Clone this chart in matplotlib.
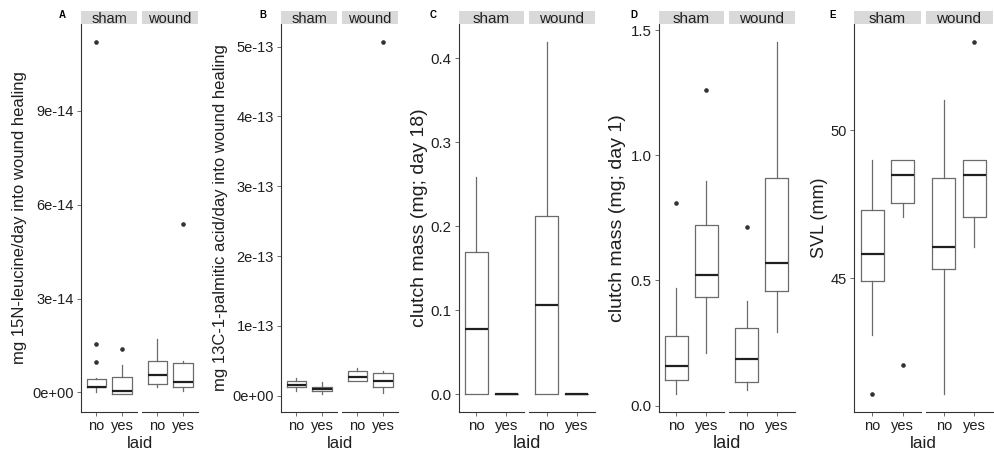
import numpy as np
import matplotlib.pyplot as plt

plt.rcParams['font.family'] = ['Liberation Sans', 'DejaVu Sans']

# --------------------------
# data
groups = ['sham', 'wound']
laid = ['no', 'yes']

# five-number summaries [whislo, q1, med, q3, whishi]
# order: sham-no, sham-yes, wound-no, wound-yes
leucine_box = [[0.02e-14, 0.16e-14, 0.19e-14, 0.42e-14, 0.45e-14],
               [-0.06e-14, -0.05e-14, 0.05e-14, 0.48e-14, 0.89e-14],
               [0.16e-14, 0.27e-14, 0.55e-14, 1.00e-14, 1.72e-14],
               [0.05e-14, 0.16e-14, 0.34e-14, 0.94e-14, 1.00e-14]]
leucine_out = [[0.98e-14, 1.54e-14, 11.2e-14], [1.38e-14], [], [5.38e-14]]

palmitic_box = [[0.07e-13, 0.13e-13, 0.16e-13, 0.21e-13, 0.26e-13],
                [0.02e-13, 0.07e-13, 0.10e-13, 0.13e-13, 0.19e-13],
                [0.21e-13, 0.21e-13, 0.27e-13, 0.36e-13, 0.40e-13],
                [0.04e-13, 0.13e-13, 0.21e-13, 0.32e-13, 0.36e-13]]
palmitic_out = [[], [], [], [5.07e-13]]

clutch18_box = [[0.0, 0.0, 0.078, 0.169, 0.259],
                [0.0, 0.0, 0.0, 0.0, 0.0],
                [0.0, 0.0, 0.107, 0.212, 0.420],
                [0.0, 0.0, 0.0, 0.0, 0.0]]
clutch18_out = [[], [], [], []]

clutch1_box = [[0.045, 0.102, 0.159, 0.278, 0.469],
               [0.211, 0.434, 0.520, 0.721, 0.897],
               [0.062, 0.093, 0.185, 0.310, 0.416],
               [0.296, 0.456, 0.568, 0.911, 1.454]]
clutch1_out = [[0.811], [1.259], [0.714], []]

svl_box = [[43.07, 44.92, 45.81, 47.30, 49.01],
           [47.07, 47.55, 48.50, 49.01, 49.01],
           [41.07, 45.31, 46.04, 48.40, 51.01],
           [46.04, 47.07, 48.50, 49.01, 49.01]]
svl_out = [[41.07], [42.07], [], [53.0]]

panels = [
    dict(letter='A', ylabel='mg 15N-leucine/day into wound healing',
         box=leucine_box, out=leucine_out,
         ticks=[0, 3e-14, 6e-14, 9e-14],
         labels=['0e+00', '3e-14', '6e-14', '9e-14']),
    dict(letter='B', ylabel='mg 13C-1-palmitic acid/day into wound healing',
         box=palmitic_box, out=palmitic_out,
         ticks=[0, 1e-13, 2e-13, 3e-13, 4e-13, 5e-13],
         labels=['0e+00', '1e-13', '2e-13', '3e-13', '4e-13', '5e-13']),
    dict(letter='C', ylabel='clutch mass (mg; day 18)',
         box=clutch18_box, out=clutch18_out,
         ticks=[0, 0.1, 0.2, 0.3, 0.4],
         labels=['0.0', '0.1', '0.2', '0.3', '0.4']),
    dict(letter='D', ylabel='clutch mass (mg; day 1)',
         box=clutch1_box, out=clutch1_out,
         ticks=[0, 0.5, 1.0, 1.5],
         labels=['0.0', '0.5', '1.0', '1.5']),
    dict(letter='E', ylabel='SVL (mm)',
         box=svl_box, out=svl_out,
         ticks=[45, 50],
         labels=['45', '50']),
]

# --------------------------
# layout in pixels, font sizes per panel (the panels were scaled differently)
W, H = 994, 458
panel_left = [81, 281, 458.5, 658.5, 854]
facet_w = [56.4, 56.4, 65.75, 65.75, 67]
gap = 4.5
plot_top, plot_bot = 24, 412
strip_top = 11
ylabel_x = [20, 220, 419, 618, 820]
letter_x = [62, 263, 433, 634, 833]
tick_fs = [10.5, 10.5, 10.8, 10.8, 10.5]
ytitle_fs = [12, 12, 14, 14, 13]
xtitle_fs = [12, 12, 13, 13, 12.3]
strip_fs = [10.5, 10.5, 11, 11, 11]

box_col = '#6b6b6b'
dark = '#1f1f1f'

fig = plt.figure(figsize=(W / 100, H / 100), dpi=100)

for p, pan in enumerate(panels):
    vals = [v for row in pan['box'] for v in row] + [v for row in pan['out'] for v in row]
    lo, hi = min(vals), max(vals)
    pad = 0.05 * (hi - lo)

    for j, grp in enumerate(groups):
        x0 = panel_left[p] + j * (facet_w[p] + gap)
        ax = fig.add_axes([x0 / W, 1 - plot_bot / H, facet_w[p] / W, (plot_bot - plot_top) / H])
        stats = []
        for k, lab in enumerate(laid):
            b = pan['box'][j * 2 + k]
            stats.append(dict(whislo=b[0], q1=b[1], med=b[2], q3=b[3], whishi=b[4],
                              fliers=pan['out'][j * 2 + k], label=lab))
        ax.bxp(stats, positions=[1, 2], widths=0.75, showcaps=False, patch_artist=False,
               boxprops=dict(color=box_col, linewidth=0.9),
               whiskerprops=dict(color=box_col, linewidth=0.9),
               medianprops=dict(color=dark, linewidth=1.6),
               flierprops=dict(marker='o', markersize=2.3, markerfacecolor='#333333',
                               markeredgecolor='#333333'))
        ax.set_xlim(0.4, 2.6)
        ax.set_ylim(lo - pad, hi + pad)
        ax.set_xticks([1, 2])
        ax.set_xticklabels(laid, fontsize=tick_fs[p], color=dark)
        ax.tick_params(axis='both', length=3, width=0.6, color='#555555', pad=2)
        for s in ['top', 'right']:
            ax.spines[s].set_visible(False)
        ax.spines['bottom'].set_color('#333333')
        ax.spines['bottom'].set_linewidth(0.8)
        if j == 0:
            ax.set_yticks(pan['ticks'])
            ax.set_yticklabels(pan['labels'], fontsize=tick_fs[p], color=dark)
            ax.spines['left'].set_color('#333333')
            ax.spines['left'].set_linewidth(0.8)
        else:
            ax.spines['left'].set_visible(False)
            ax.set_yticks([])

        # facet strip
        sax = fig.add_axes([x0 / W, 1 - plot_top / H, facet_w[p] / W, (plot_top - strip_top) / H])
        sax.set_facecolor('#d9d9d9')
        sax.set_xticks([])
        sax.set_yticks([])
        for s in sax.spines.values():
            s.set_visible(False)
        sax.text(0.5, 0.42, grp, ha='center', va='center', fontsize=strip_fs[p], color=dark,
                 transform=sax.transAxes)

    # axis titles and panel letter
    mid_x = panel_left[p] + facet_w[p] + gap / 2
    fig.text(mid_x / W, 1 - 444 / H, 'laid', ha='center', va='center',
             fontsize=xtitle_fs[p], color=dark)
    fig.text(ylabel_x[p] / W, 1 - (plot_top + plot_bot) / 2 / H, pan['ylabel'],
             rotation=90, ha='center', va='center', fontsize=ytitle_fs[p], color=dark)
    fig.text(letter_x[p] / W, 1 - 15 / H, pan['letter'], ha='center', va='center',
             fontsize=7, fontweight='bold', color='black')

fig.savefig('out.png', dpi=100, facecolor='white')
